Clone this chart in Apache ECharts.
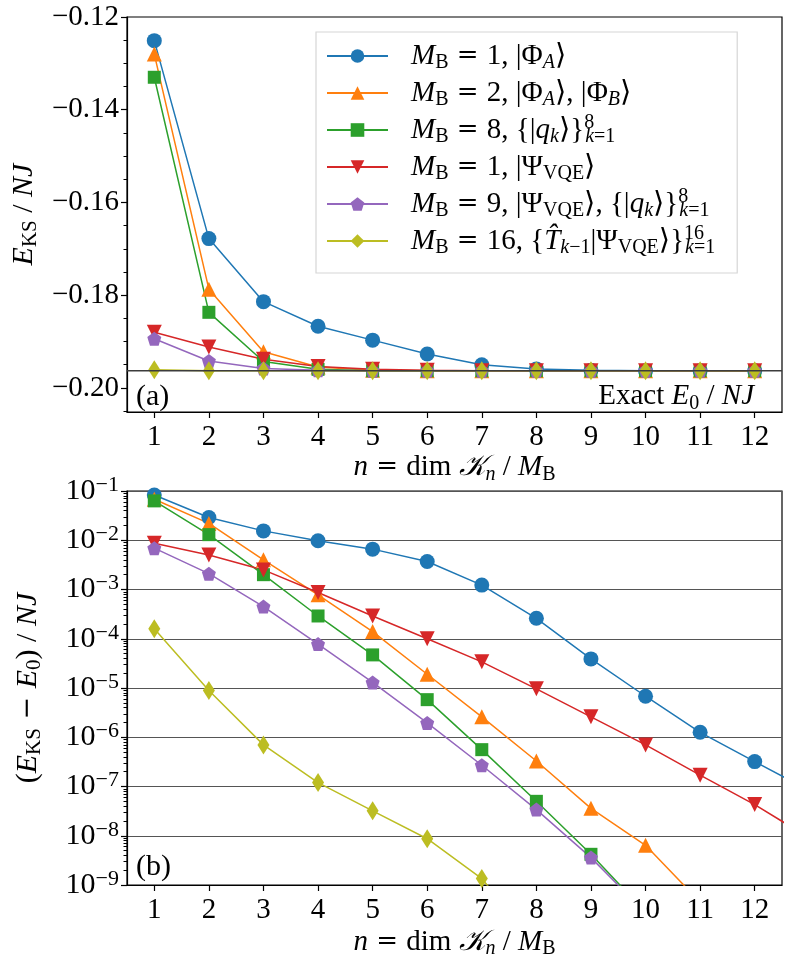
<!DOCTYPE html>
<html>
<head>
<meta charset="utf-8">
<script src="https://cdn.jsdelivr.net/npm/echarts@6/dist/echarts.min.js"></script>
<style>
html, body { margin: 0; padding: 0; background: #fff; }
#krylov { width: 789px; height: 966px; }
</style>
</head>
<body>
<div id="krylov"></div>
<script>
// Krylov subspace energies, panel (a) E_KS/NJ and panel (b) (E_KS - E0)/NJ
var n_values = [1, 2, 3, 4, 5, 6, 7, 8, 9, 10, 11, 12, 13];
var e_exact = -0.1963;

// panel (a): n = 1..12
var ks_phiA    = [-0.1251, -0.1678, -0.1814, -0.1867, -0.1897, -0.1927, -0.1950, -0.1959, -0.1962, -0.1963, -0.1963, -0.1963];
var ks_phiAB   = [-0.1280, -0.1787, -0.1922, -0.1955, -0.1962, -0.1963, -0.1963, -0.1963, -0.1963, -0.1963, -0.1963, -0.1963];
var ks_qk      = [-0.1330, -0.1837, -0.1943, -0.1960, -0.1963, -0.1963, -0.1963, -0.1963, -0.1963, -0.1963, -0.1963, -0.1963];
var ks_vqe     = [-0.1880, -0.1912, -0.1938, -0.1954, -0.1960, -0.1962, -0.1963, -0.1963, -0.1963, -0.1963, -0.1963, -0.1963];
var ks_vqe_qk  = [-0.1894, -0.1942, -0.1958, -0.1962, -0.1963, -0.1963, -0.1963, -0.1963, -0.1963, -0.1963, -0.1963, -0.1963];
var ks_vqe_t   = [-0.1961, -0.1963, -0.1963, -0.1963, -0.1963, -0.1963, -0.1963, -0.1963, -0.1963, -0.1963, -0.1963, -0.1963];

// panel (b): n = 1.., the last points run out of the plotted window
var err_phiA   = [8.3e-2, 2.9e-2, 1.55e-2, 9.8e-3, 6.6e-3, 3.7e-3, 1.23e-3, 2.6e-4, 3.9e-5, 6.8e-6, 1.26e-6, 3.2e-7, 8.3e-8];
var err_phiAB  = [6.8e-2, 2.2e-2, 4.0e-3, 7.8e-4, 1.4e-4, 1.9e-5, 2.6e-6, 3.3e-7, 3.6e-8, 6.4e-9, 4.5e-10];
var err_qk     = [6.3e-2, 1.3e-2, 2.0e-3, 2.9e-4, 4.7e-5, 5.8e-6, 5.6e-7, 5.0e-8, 4.2e-9, 2.8e-10];
var err_vqe    = [8.7e-3, 5.0e-3, 2.5e-3, 8.7e-4, 2.9e-4, 1.0e-4, 3.4e-5, 9.6e-6, 2.6e-6, 7.0e-7, 1.7e-7, 4.3e-8, 9.0e-9];
var err_vqe_qk = [6.9e-3, 2.1e-3, 4.5e-4, 7.8e-5, 1.3e-5, 1.95e-6, 2.7e-7, 3.4e-8, 3.6e-9, 2.7e-10];
var err_vqe_t  = [1.6e-4, 8.9e-6, 7.0e-7, 1.2e-7, 3.2e-8, 8.7e-9, 1.35e-9, 6.0e-11];

// tick labels
var x_ticks = [1, 2, 3, 4, 5, 6, 7, 8, 9, 10, 11, 12];
var lin_ticks = [-0.20, -0.18, -0.16, -0.14, -0.12];
var lin_minor = [-0.205, -0.195, -0.19, -0.185, -0.175, -0.17, -0.165, -0.155, -0.15, -0.145, -0.135, -0.13, -0.125];
var log_ticks = [1e-9, 1e-8, 1e-7, 1e-6, 1e-5, 1e-4, 1e-3, 1e-2, 1e-1];

var SERIF = "'Liberation Serif', 'DejaVu Serif', serif";
var colors = ['#1f77b4', '#ff7f0e', '#2ca02c', '#d62728', '#9467bd', '#bcbd22'];
var names = ['phiA', 'phiAB', 'qk', 'vqe', 'vqe_qk', 'vqe_t'];
var pentagon = 'path://M0,-1 L0.951,-0.309 L0.588,0.809 L-0.588,0.809 L-0.951,-0.309 Z';
var symbols = ['circle', 'triangle', 'rect', 'triangle', pentagon, 'diamond'];
var symbolSizes = [15, 15, 13, 15, 14, [12, 19]];
var rotates = [0, 0, 0, 180, 0, 0];

var labels = {
    phiA:   '{i|M}{sub|B}{eq| = }{r|1, |Φ}{isub|A}{r|⟩}',
    phiAB:  '{i|M}{sub|B}{eq| = }{r|2, |Φ}{isub|A}{r|⟩, |Φ}{isub|B}{r|⟩}',
    qk:     '{i|M}{sub|B}{eq| = }{r|8, {|}{i|q}{isub|k}{r|⟩}}{sup|8}{isub|k}{sub|=1}',
    vqe:    '{i|M}{sub|B}{eq| = }{r|1, |Ψ}{sub|VQE}{r|⟩}',
    vqe_qk: '{i|M}{sub|B}{eq| = }{r|9, |Ψ}{sub|VQE}{r|⟩, {|}{i|q}{isub|k}{r|⟩}}{sup|8}{isub|k}{sub|=1}',
    vqe_t:  '{i|M}{sub|B}{eq| = }{r|16, {}{i|T\u0302}{isub|k}{sub|−1}{r||Ψ}{sub|VQE}{r|⟩}}{sup|16}{isub|k}{sub|=1}'
};

function richSet(size) {
    var s = Math.round(size * 0.7);
    return {
        r: { fontFamily: SERIF, fontSize: size, lineHeight: 34 },
        i: { fontFamily: SERIF, fontSize: size, lineHeight: 34, fontStyle: 'italic' },
        eq: { fontFamily: "'DejaVu Serif', serif", fontSize: size - 3, lineHeight: 34 },
        sub: { fontFamily: SERIF, fontSize: s, lineHeight: 20, verticalAlign: 'bottom' },
        isub: { fontFamily: SERIF, fontSize: s, lineHeight: 20, verticalAlign: 'bottom', fontStyle: 'italic' },
        sup: { fontFamily: SERIF, fontSize: s, lineHeight: 14, verticalAlign: 'top', width: 1 }
    };
}

function pairs(vals) {
    return vals.map(function (v, k) { return [n_values[k], v]; });
}

function logLabel(v) {
    var e = Math.round(Math.log(v) / Math.LN10);
    return '{b|10}{e|\u2212' + (-e) + '}';
}

var log_minor = [];
for (var d = -9; d < -1; d++) {
    for (var m = 2; m <= 9; m++) log_minor.push(m * Math.pow(10, d));
}

var chart = echarts.init(document.getElementById('krylov'), null, { renderer: 'canvas' });

var axisLineStyle = { color: '#000', width: 1.2 };
function xAxisFor(g) {
    return {
        type: 'value', gridIndex: g, min: 0.5, max: 12.5,
        name: '{i|n}{eq| = }{r|dim }{i|𝒦}{isub|n}{r| / }{i|M}{sub|B}',
        nameLocation: 'middle', nameGap: g === 0 ? 36 : 40,
        nameTextStyle: { fontFamily: SERIF, fontSize: 29, color: '#000', rich: richSet(29) },
        axisLine: { show: true, onZero: false, lineStyle: axisLineStyle },
        axisTick: { show: true, length: 6, lineStyle: axisLineStyle, customValues: x_ticks },
        axisLabel: { margin: 11, fontFamily: SERIF, fontSize: 29, color: '#000', customValues: x_ticks },
        splitLine: { show: false }
    };
}

var seriesList = [];
var topData = [ks_phiA, ks_phiAB, ks_qk, ks_vqe, ks_vqe_qk, ks_vqe_t];
var botData = [err_phiA, err_phiAB, err_qk, err_vqe, err_vqe_qk, err_vqe_t];
for (var s = 0; s < 6; s++) {
    var common = {
        type: 'line', name: names[s], symbol: symbols[s], symbolSize: symbolSizes[s],
        symbolRotate: rotates[s], showAllSymbol: true, clip: true, animation: false,
        lineStyle: { color: colors[s], width: 1.5 },
        itemStyle: { color: colors[s] }
    };
    seriesList.push(Object.assign({}, common, { xAxisIndex: 0, yAxisIndex: 0, data: pairs(topData[s]) }));
    seriesList.push(Object.assign({}, common, { xAxisIndex: 1, yAxisIndex: 2, data: pairs(botData[s]) }));
}
// exact ground state energy
seriesList.push({
    type: 'line', name: 'exact', xAxisIndex: 0, yAxisIndex: 0, z: 5,
    symbol: 'none', animation: false, silent: true,
    lineStyle: { color: '#3c3c3c', width: 1.6 },
    data: [[0.5, e_exact], [12.5, e_exact]]
});

var option = {
    backgroundColor: '#fff',
    animation: false,
    grid: [
        { left: 127, top: 17, width: 655, height: 395, show: true, borderColor: '#000', borderWidth: 1.2 },
        { left: 127, top: 491, width: 655, height: 394, show: true, borderColor: '#000', borderWidth: 1.2 }
    ],
    legend: {
        data: names, orient: 'vertical', left: 316, top: 32,
        padding: [7, 22, 15, 10], itemGap: 3, itemWidth: 61, itemHeight: 17,
        backgroundColor: '#fff', borderColor: '#d6d6d6', borderWidth: 1.2,
        formatter: function (nm) { return labels[nm]; },
        textStyle: { fontFamily: SERIF, fontSize: 29, lineHeight: 34, color: '#000', padding: [0, 0, 0, 18], rich: richSet(29) }
    },
    xAxis: [xAxisFor(0), xAxisFor(1)],
    yAxis: [
        {
            type: 'value', gridIndex: 0, min: -0.2052, max: -0.12,
            name: '{i|E}{sub|KS}{r| / }{i|NJ}', nameLocation: 'middle', nameGap: 81,
            nameTextStyle: { fontFamily: SERIF, fontSize: 30, color: '#000', rich: richSet(30) },
            axisLine: { show: true, lineStyle: axisLineStyle },
            axisTick: { show: true, length: 6, lineStyle: axisLineStyle, customValues: lin_ticks },
            axisLabel: {
                margin: 8, fontFamily: SERIF, fontSize: 29, color: '#000', customValues: lin_ticks,
                formatter: function (v) { return '\u2212' + Math.abs(v).toFixed(2); }
            },
            splitLine: { show: false }
        },
        {
            type: 'value', gridIndex: 0, min: -0.2052, max: -0.12, position: 'left',
            axisLine: { show: false },
            axisTick: { show: true, length: 3.5, lineStyle: { color: '#000', width: 1 }, customValues: lin_minor },
            axisLabel: { show: false },
            splitLine: { show: false }
        },
        {
            type: 'log', logBase: 10, gridIndex: 1, min: 1e-9, max: 1e-1, interval: 1,
            name: '{r|(}{i|E}{sub|KS}{eq| \u2212 }{i|E}{sub|0}{r|) / }{i|NJ}', nameLocation: 'middle', nameGap: 82,
            nameTextStyle: { fontFamily: SERIF, fontSize: 30, color: '#000', rich: richSet(30) },
            axisLine: { show: true, lineStyle: axisLineStyle },
            axisTick: { show: true, length: 6, lineStyle: axisLineStyle, customValues: log_ticks },
            axisLabel: {
                margin: 8, color: '#000', customValues: log_ticks, formatter: logLabel,
                rich: {
                    b: { fontFamily: SERIF, fontSize: 30, lineHeight: 34 },
                    e: { fontFamily: SERIF, fontSize: 22, lineHeight: 16, verticalAlign: 'top' }
                }
            },
            splitLine: { show: true, lineStyle: { color: '#555', width: 1.2 } }
        },
        {
            type: 'log', logBase: 10, gridIndex: 1, min: 1e-9, max: 1e-1, position: 'left',
            axisLine: { show: false },
            axisTick: { show: true, length: 3.5, lineStyle: { color: '#000', width: 1 }, customValues: log_minor },
            axisLabel: { show: false },
            splitLine: { show: false }
        }
    ],
    graphic: [
        { type: 'text', left: 136, top: 382, style: { text: '(a)', fontFamily: SERIF, fontSize: 30, fill: '#000' } },
        { type: 'text', left: 136, top: 852, style: { text: '(b)', fontFamily: SERIF, fontSize: 30, fill: '#000' } },
        {
            type: 'text', right: 35, top: 382,
            style: {
                text: '{r|Exact }{i|E}{sub|0}{r| / }{i|NJ}', fontFamily: SERIF, fontSize: 29, fill: '#000',
                rich: richSet(29)
            }
        }
    ],
    series: seriesList
};

chart.setOption(option);
</script>
</body>
</html>
